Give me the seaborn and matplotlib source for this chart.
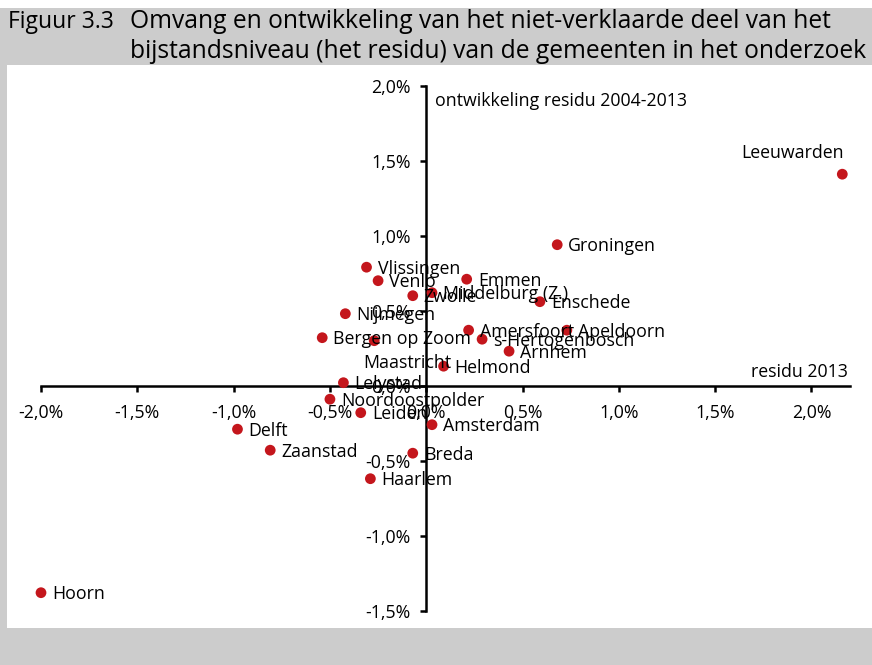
import seaborn as sns
import matplotlib.pyplot as plt
import pandas as pd
from matplotlib.patches import Rectangle
from matplotlib.ticker import FuncFormatter, MultipleLocator

# === data (in procenten) ===
gemeenten = [
    "Leeuwarden", "Groningen", "Vlissingen", "Venlo", "Emmen", "Middelburg (Z.)",
    "Zwolle", "Enschede", "Nijmegen", "Amersfoort", "Apeldoorn", "Bergen op Zoom",
    "Maastricht", "s-Hertogenbosch", "Arnhem", "Helmond", "Lelystad",
    "Noordoostpolder", "Leiden", "Amsterdam", "Delft", "Zaanstad", "Breda",
    "Haarlem", "Hoorn",
]
residu_2013 = [
    2.16, 0.68, -0.31, -0.25, 0.21, 0.03,
    -0.07, 0.59, -0.42, 0.22, 0.73, -0.54,
    -0.27, 0.29, 0.43, 0.09, -0.43,
    -0.50, -0.34, 0.03, -0.98, -0.81, -0.07,
    -0.29, -2.00,
]
ontwikkeling = [
    1.41, 0.94, 0.79, 0.70, 0.71, 0.62,
    0.60, 0.56, 0.48, 0.37, 0.37, 0.32,
    0.30, 0.31, 0.23, 0.13, 0.02,
    -0.09, -0.18, -0.26, -0.29, -0.43, -0.45,
    -0.62, -1.38,
]

df = pd.DataFrame({"gemeente": gemeenten, "x": residu_2013, "y": ontwikkeling})

sns.set_style("white")
plt.rcParams["font.family"] = ["Open Sans", "DejaVu Sans"]
plt.rcParams["text.color"] = "black"
plt.rcParams["xtick.color"] = "black"
plt.rcParams["ytick.color"] = "black"

FS = 12.8

fig = plt.figure(figsize=(8.72, 6.65), dpi=100)
fig.patch.set_facecolor("white")

# grijze kaders zoals in het rapport
fig.add_artist(Rectangle((0, 0), 1, 1 - 8 / 665, transform=fig.transFigure,
                         facecolor="#cccccc", edgecolor="none", zorder=-10))
fig.add_artist(Rectangle((7 / 872, 37 / 665), 1, (628 - 65) / 665, transform=fig.transFigure,
                         facecolor="white", edgecolor="none", zorder=-9))

fig.text(8 / 872, 1 - 22 / 665, "Figuur 3.3", fontsize=16.5, va="center", ha="left")
fig.text(130 / 872, 1 - 22 / 665, "Omvang en ontwikkeling van het niet-verklaarde deel van het",
         fontsize=17.7, va="center", ha="left")
fig.text(130 / 872, 1 - 51 / 665, "bijstandsniveau (het residu) van de gemeenten in het onderzoek",
         fontsize=17.7, va="center", ha="left")

ax = fig.add_axes([41 / 872, 1 - 610.7 / 665, (850 - 41) / 872, (610.7 - 85.7) / 665])
ax.set_facecolor("none")

sns.scatterplot(data=df, x="x", y="y", ax=ax, color="#c4161c", s=60,
                edgecolor="none", zorder=3, clip_on=False)

ax.set_xlim(-2.0, 2.2)
ax.set_ylim(-1.5, 2.0)
ax.set_xlabel("")
ax.set_ylabel("")

for s in ["top", "right"]:
    ax.spines[s].set_visible(False)
for s in ["left", "bottom"]:
    ax.spines[s].set_position("zero")
    ax.spines[s].set_linewidth(1.8)
    ax.spines[s].set_color("black")
ax.spines["left"].set_bounds(-1.5, 2.0)

ax.set_xticks([-2.0, -1.5, -1.0, -0.5, 0.0, 0.5, 1.0, 1.5, 2.0])
ax.yaxis.set_major_locator(MultipleLocator(0.5))
pct = FuncFormatter(lambda v, p: f"{v:.1f}%".replace(".", ","))
ax.xaxis.set_major_formatter(pct)
ax.yaxis.set_major_formatter(pct)
ax.tick_params(axis="both", direction="out", length=4, width=1.8, labelsize=FS,
               bottom=True, left=True)
ax.tick_params(axis="x", pad=9)
ax.tick_params(axis="y", pad=7)

# labels van de punten
for naam, x, y in zip(gemeenten, residu_2013, ontwikkeling):
    if naam == "Leeuwarden":
        ax.annotate(naam, (x, y), xytext=(1, 15), textcoords="offset points",
                    ha="right", va="center", fontsize=FS)
    elif naam == "Maastricht":
        ax.annotate(naam, (x, y), xytext=(-8, -16), textcoords="offset points",
                    ha="left", va="center", fontsize=FS)
    else:
        ax.annotate(naam, (x, y), xytext=(8, -1), textcoords="offset points",
                    ha="left", va="center", fontsize=FS)

ax.text(0.047, 1.9, "ontwikkeling residu 2004-2013", ha="left", va="center", fontsize=FS)
ax.text(2.19, 0.09, "residu 2013", ha="right", va="center", fontsize=FS)

plt.savefig("out.png", dpi=100)
plt.close()
